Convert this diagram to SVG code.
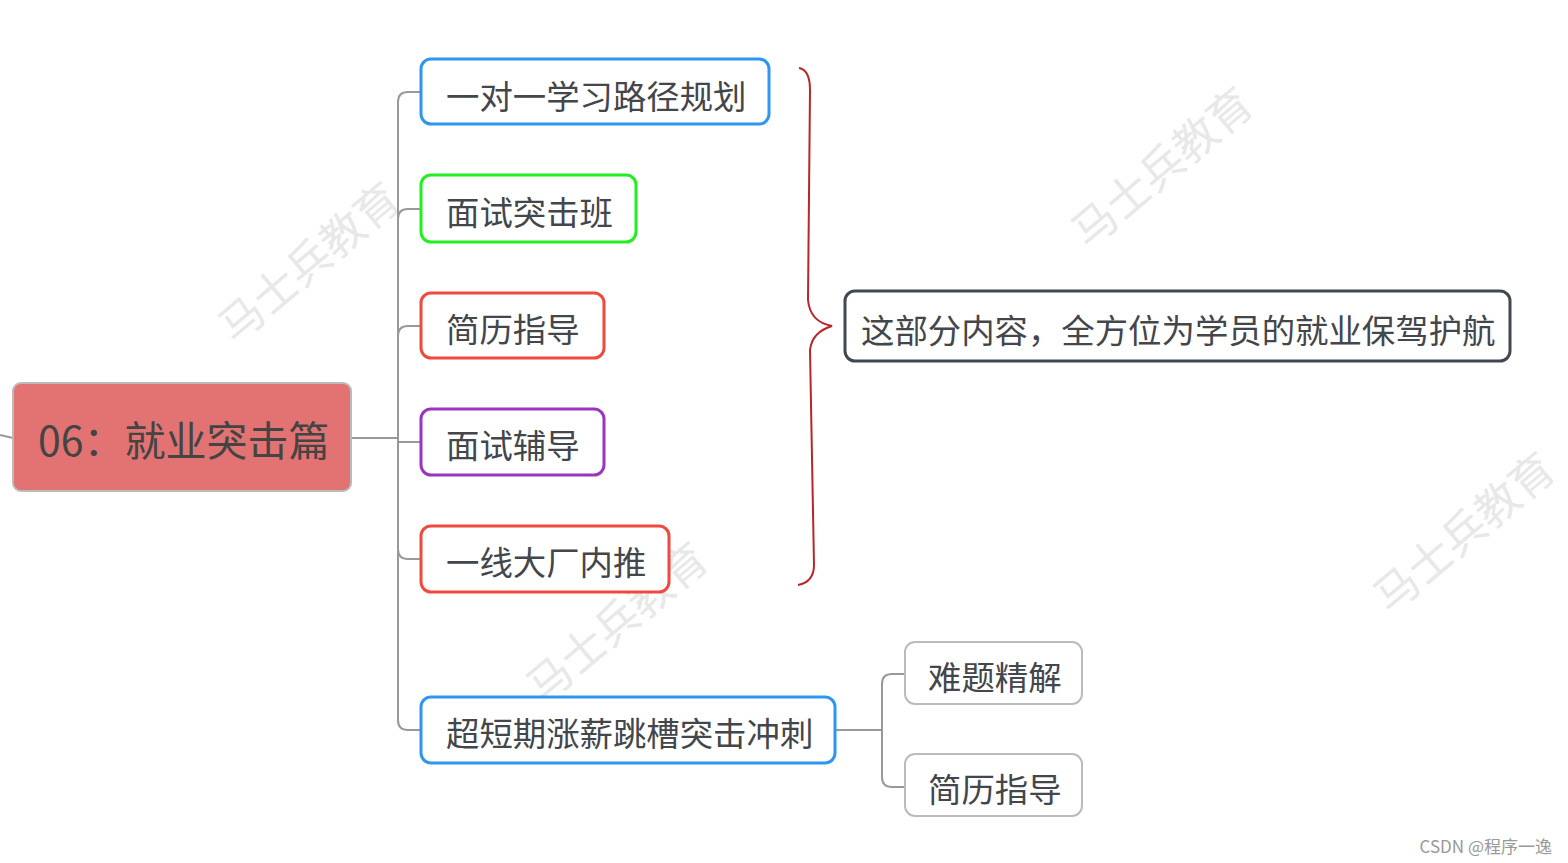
<svg xmlns="http://www.w3.org/2000/svg" width="1568" height="863" viewBox="0 0 1568 863">
<style>
text{font-family:"Noto Sans CJK SC","Noto Sans",sans-serif}
.wm{font-size:44px;fill:#e8e8e8;text-anchor:middle;dominant-baseline:central}
.lbl{font-size:33.4px;fill:#43464b;dominant-baseline:central}
.box{fill:#fff;stroke-width:3}
.conn{fill:none;stroke:#999;stroke-width:2}
</style>
<rect width="1568" height="863" fill="#fff"/>
<g id="watermarks">
<text class="wm" transform="rotate(-40 307 260)" x="307" y="260">马士兵教育</text>
<text class="wm" transform="rotate(-40 1160 165)" x="1160" y="165">马士兵教育</text>
<text class="wm" transform="rotate(-40 1462 530)" x="1462" y="530">马士兵教育</text>
<text class="wm" transform="rotate(-40 615 620)" x="615" y="620">马士兵教育</text>
</g>
<g id="connectors">
<path class="conn" d="M0 435 L13 438"/>
<path class="conn" d="M352 438 H398"/>
<path class="conn" d="M421 92 H408 Q398 92 398 102 V720 Q398 730 408 730 H421"/>
<path class="conn" d="M421 209 H408 Q398 209 398 219"/>
<path class="conn" d="M421 326 H408 Q398 326 398 336"/>
<path class="conn" d="M421 442 H398"/>
<path class="conn" d="M421 559 H408 Q398 559 398 549"/>
<path class="conn" d="M836 730 H882"/>
<path class="conn" d="M905 674 H892 Q882 674 882 684 V777 Q882 787 892 787 H905"/>
<path fill="none" stroke="#b8262a" stroke-width="2" d="M799 68 Q810 70 810 90 L808 300 Q810 322 832 326 Q812 332 810 350 L814 565 Q814 582 798 585"/>
</g>
<g id="root">
<rect x="13" y="383" width="338" height="108" rx="8" fill="#e27372" stroke="#bbb" stroke-width="2"/>
<text x="38" y="438" font-size="41" fill="#444" dominant-baseline="central">06：就业突击篇</text>
</g>
<g id="n1">
<rect class="box" x="421" y="59" width="348" height="65" rx="10" stroke="#2e96f0"/>
<text class="lbl" x="446" y="94">一对一学习路径规划</text>
</g>
<g id="n2">
<rect class="box" x="421" y="175" width="215" height="67" rx="10" stroke="#22ee22"/>
<text class="lbl" x="446" y="210">面试突击班</text>
</g>
<g id="n3">
<rect class="box" x="421" y="293" width="183" height="65" rx="10" stroke="#f04a3e"/>
<text class="lbl" x="446" y="327">简历指导</text>
</g>
<g id="n4">
<rect class="box" x="421" y="409" width="183" height="66" rx="10" stroke="#9a35c0"/>
<text class="lbl" x="446" y="443">面试辅导</text>
</g>
<g id="n5">
<rect class="box" x="421" y="526" width="248" height="66" rx="10" stroke="#f04a3e"/>
<text class="lbl" x="446" y="560">一线大厂内推</text>
</g>
<g id="n6">
<rect class="box" x="421" y="697" width="414" height="66" rx="10" stroke="#2e96f0"/>
<text class="lbl" x="446" y="731">超短期涨薪跳槽突击冲刺</text>
</g>
<g id="summary">
<rect class="box" x="845" y="291" width="665" height="70" rx="10" stroke="#424850"/>
<text class="lbl" x="861" y="328">这部分内容，全方位为学员的就业保驾护航</text>
</g>
<g id="n6a">
<rect x="905" y="642" width="177" height="62" rx="10" fill="#fff" stroke="#bbb" stroke-width="2"/>
<text class="lbl" x="928" y="675">难题精解</text>
</g>
<g id="n6b">
<rect x="905" y="754" width="177" height="62" rx="10" fill="#fff" stroke="#bbb" stroke-width="2"/>
<text class="lbl" x="928" y="787">简历指导</text>
</g>
<text x="1552" y="845" font-size="17" fill="#999" text-anchor="end" dominant-baseline="central">CSDN @程序一逸</text>
</svg>
